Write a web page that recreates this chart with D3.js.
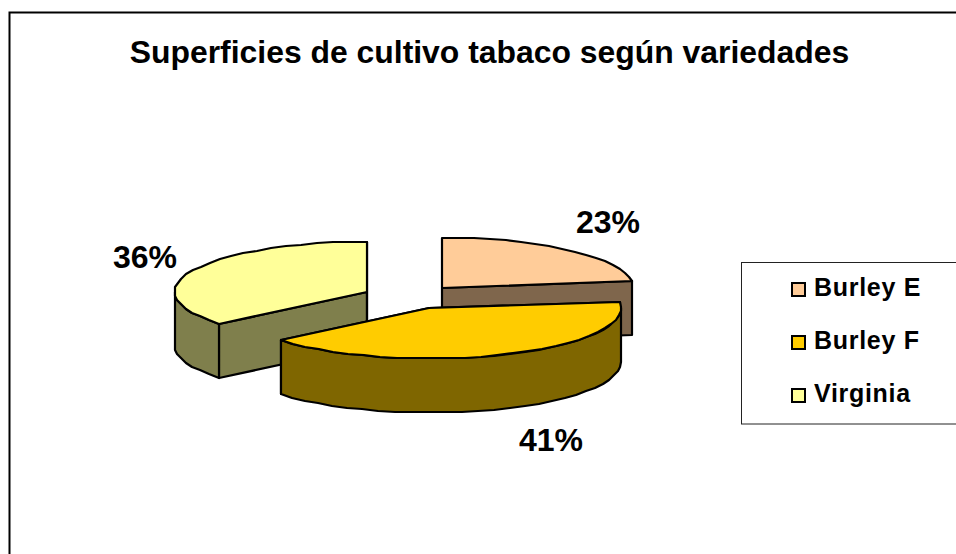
<!DOCTYPE html>
<html lang="es">
<head>
<meta charset="UTF-8">
<title>Superficies de cultivo tabaco</title>
<script src="https://d3js.org/d3.v7.min.js"></script>
<style>
  html, body { margin: 0; padding: 0; background: #fff; overflow: hidden; }
  text { font-family: "Liberation Sans", Arial, sans-serif; font-weight: bold; fill: #000; }
</style>
</head>
<body>
<script>
var titleText = "Superficies de cultivo tabaco según variedades";
var categories = ["Burley E", "Burley F", "Virginia"];
var values = [23, 41, 36];
var topColors = ["#FFCC99", "#FFCC00", "#FFFF99"];
var sideColors = ["#7F664C", "#7F6600", "#7F7F4C"];

var width = 956, height = 554;
var cx = 410, cy = 297, rx = 192, ry = 50, depth = 54, explode = 0.25;

var svg = d3.select("body").append("svg")
    .attr("width", width).attr("height", height)
    .style("display", "block");

// outer frame, runs off the right and bottom of the picture
svg.append("rect")
    .attr("x", 9.5).attr("y", 12.5)
    .attr("width", 1000).attr("height", 600)
    .attr("fill", "#fff").attr("stroke", "#000").attr("stroke-width", 2);

svg.append("text")
    .attr("x", 489.5).attr("y", 62.5)
    .attr("text-anchor", "middle")
    .attr("font-size", 31.9)
    .text(titleText);

var arcs = d3.pie().sort(null)(values);

function project(c, a, dz) {
    return [Math.round(c[0] + rx * Math.sin(a)), Math.round(c[1] - ry * Math.cos(a) + (dz || 0))];
}

// the arc is drawn as a coarse polygon, as in the original
function arcPoints(c, a0, a1, dz) {
    var n = Math.max(2, Math.ceil((a1 - a0) / 0.09));
    return d3.range(n + 1).map(function(i) {
        return project(c, a0 + (a1 - a0) * i / n, dz);
    });
}

var line = d3.line();
function drawPoly(pts, fill) {
    svg.append("path")
        .attr("d", line(pts) + "Z")
        .attr("fill", fill)
        .attr("stroke", "#000")
        .attr("stroke-width", 2.2)
        .attr("stroke-linejoin", "round");
}

// back slices first, the big front slice last
[2, 0, 1].forEach(function(i) {
    var d = arcs[i];
    var mid = (d.startAngle + d.endAngle) / 2;
    var c = [cx + explode * rx * Math.sin(mid), cy - explode * ry * Math.cos(mid)];
    var apex = [Math.round(c[0]), Math.round(c[1])];
    var apexLow = [apex[0], apex[1] + depth];

    // cut faces
    [d.startAngle, d.endAngle].forEach(function(a) {
        var p = project(c, a), q = project(c, a, depth);
        if (Math.cos(a) < 1 - 1e-6 && Math.cos(a) > -1) {
            drawPoly([apex, p, q, apexLow], sideColors[i]);
        }
    });
    if (i === 2) drawPoly([apex, apexLow, project(c, d.endAngle, depth), project(c, d.endAngle)], sideColors[i]);

    // outer wall, only the part facing the viewer
    var a0 = Math.max(d.startAngle, Math.PI / 2), a1 = Math.min(d.endAngle, 3 * Math.PI / 2);
    if (a1 > a0) {
        drawPoly(arcPoints(c, a0, a1, 0).concat(arcPoints(c, a0, a1, depth).reverse()), sideColors[i]);
    }

    // top
    drawPoly([apex].concat(arcPoints(c, d.startAngle, d.endAngle, 0)), topColors[i]);
});

// percentage labels
var total = d3.sum(values);
var labelPos = [[608, 232.5], [551, 450.5], [145, 267.5]];
values.forEach(function(v, i) {
    svg.append("text")
        .attr("x", labelPos[i][0]).attr("y", labelPos[i][1])
        .attr("text-anchor", "middle")
        .attr("font-size", 32)
        .text(d3.format(".0%")(v / total));
});

// legend, cut by the right edge
svg.append("rect")
    .attr("x", 741.5).attr("y", 262.5)
    .attr("width", 300).attr("height", 161.5)
    .attr("fill", "#fff").attr("stroke", "#222").attr("stroke-width", 1);

var legendY = d3.scalePoint().domain(categories).range([289.5, 395.5]);
categories.forEach(function(name, i) {
    var y = legendY(name);
    svg.append("rect")
        .attr("x", 792).attr("y", y - 6.5)
        .attr("width", 13).attr("height", 13)
        .attr("fill", topColors[i])
        .attr("stroke", "#000").attr("stroke-width", 2);
    svg.append("text")
        .attr("x", 814).attr("y", y + 6.5)
        .attr("font-size", 25)
        .attr("letter-spacing", 0.7)
        .text(name);
});
</script>
</body>
</html>
